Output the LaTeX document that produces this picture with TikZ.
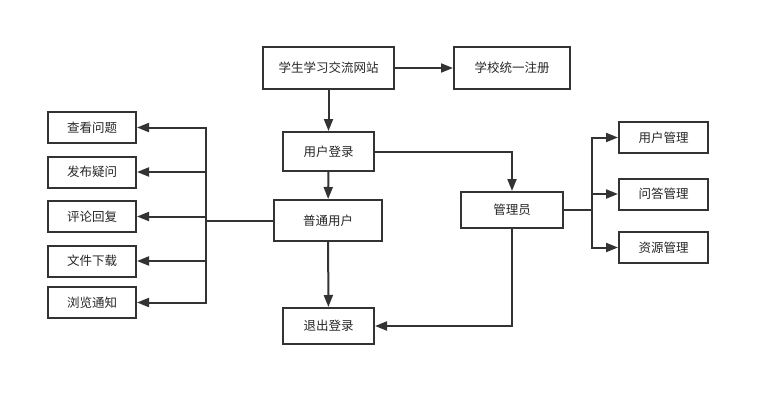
\documentclass[tikz,border=0pt]{standalone}
\usepackage{fontspec}
\setmainfont{Noto Sans CJK SC}
\usetikzlibrary{arrows.meta}
\begin{document}
\begin{tikzpicture}[x=1pt,y=-1pt,
	box/.style={draw=black!80,line width=2pt,inner sep=0pt,font=\fontsize{12.5pt}{15pt}\selectfont,text=black!85},
	arr/.style={draw=black!80,line width=2pt,-{Triangle[length=12pt,width=9pt]}},
	ln/.style={draw=black!80,line width=2pt}]
				\useasboundingbox (0,0) rectangle (770,404);
				\node[box,minimum width=131pt,minimum height=42pt] (site) at (328.5,68) {学生学习交流网站};
				\node[box,minimum width=116pt,minimum height=42pt] (reg) at (512,68) {学校统一注册};
				\node[box,minimum width=91pt,minimum height=39pt] (login) at (328.5,151.5) {用户登录};
				\node[box,minimum width=108pt,minimum height=41pt] (user) at (328,220.5) {普通用户};
				\node[box,minimum width=91pt,minimum height=36pt] (logout) at (328.5,326) {退出登录};
				\node[box,minimum width=102pt,minimum height=36pt] (admin) at (512,210) {管理员};
				\node[box,minimum width=88pt,minimum height=31pt] (look) at (92,127.5) {查看问题};
				\node[box,minimum width=88pt,minimum height=31pt] (ask) at (92,172) {发布疑问};
				\node[box,minimum width=88pt,minimum height=31pt] (reply) at (92,216.5) {评论回复};
				\node[box,minimum width=88pt,minimum height=31pt] (down) at (92,261) {文件下载};
				\node[box,minimum width=88pt,minimum height=31pt] (notice) at (92,302.5) {浏览通知};
				\node[box,minimum width=89pt,minimum height=31pt] (umgr) at (663.5,137.5) {用户管理};
				\node[box,minimum width=89pt,minimum height=31pt] (qmgr) at (663.5,194) {问答管理};
				\node[box,minimum width=89pt,minimum height=31pt] (rmgr) at (663.5,247.5) {资源管理};
				\coordinate (ubus) at (206,220.5);
				\coordinate (abus) at (592,210);
				\draw[arr] (site) -- (reg);
				\draw[arr] (site) -- (login);
				\draw[arr] (login) -- (user);
				\draw[arr] (user) -- (logout);
				\draw[arr] (login.east) -| (admin.north);
				\draw[arr] (admin.south) |- (logout.east);
				\draw[ln] (user.west) -- (ubus);
				\foreach \b in {look,ask,reply,down,notice}
					\draw[arr] (ubus) |- (\b.east);
				\draw[ln] (admin.east) -- (abus);
				\foreach \b in {umgr,qmgr,rmgr}
					\draw[arr] (abus) |- (\b.west);
			\end{tikzpicture}
\end{document}
